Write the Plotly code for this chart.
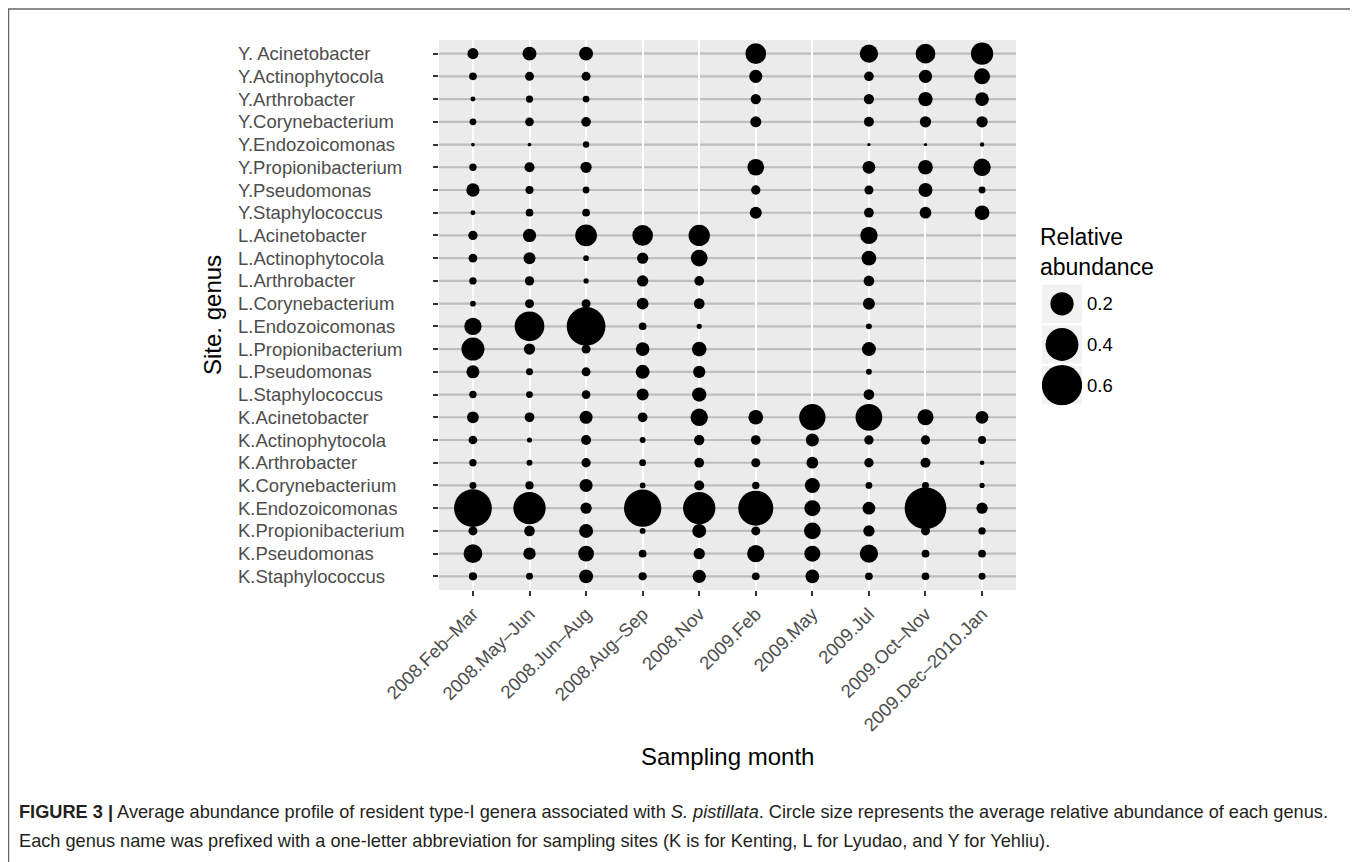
import plotly.graph_objects as go

W, H = 1358, 862

genera = [
    "Y. Acinetobacter", "Y.Actinophytocola", "Y.Arthrobacter", "Y.Corynebacterium",
    "Y.Endozoicomonas", "Y.Propionibacterium", "Y.Pseudomonas", "Y.Staphylococcus",
    "L.Acinetobacter", "L.Actinophytocola", "L.Arthrobacter", "L.Corynebacterium",
    "L.Endozoicomonas", "L.Propionibacterium", "L.Pseudomonas", "L.Staphylococcus",
    "K.Acinetobacter", "K.Actinophytocola", "K.Arthrobacter", "K.Corynebacterium",
    "K.Endozoicomonas", "K.Propionibacterium", "K.Pseudomonas", "K.Staphylococcus",
]

months = [
    "2008.Feb–Mar", "2008.May–Jun", "2008.Jun–Aug", "2008.Aug–Sep", "2008.Nov",
    "2009.Feb", "2009.May", "2009.Jul", "2009.Oct–Nov", "2009.Dec–2010.Jan",
]

N8 = [None] * 8

# relative abundance per sampling month, rows follow `genera` (Y..., L..., K...)
feb_mar_2008 = [0.045, 0.022, 0.009, 0.017, 0.005, 0.020, 0.065, 0.009,
                0.032, 0.028, 0.020, 0.012, 0.111, 0.196, 0.063, 0.020,
                0.051, 0.028, 0.020, 0.018, 0.526, 0.030, 0.129, 0.025]
may_jun_2008 = [0.072, 0.030, 0.020, 0.028, 0.005, 0.037, 0.024, 0.022,
                0.065, 0.053, 0.032, 0.030, 0.326, 0.047, 0.018, 0.017,
                0.035, 0.010, 0.013, 0.025, 0.386, 0.042, 0.056, 0.018]
jun_aug_2008 = [0.072, 0.030, 0.017, 0.035, 0.015, 0.047, 0.017, 0.022,
                0.174, 0.012, 0.010, 0.030, 0.554, 0.030, 0.030, 0.028,
                0.063, 0.037, 0.032, 0.063, 0.047, 0.072, 0.091, 0.072]
aug_sep_2008 = N8 + [0.158, 0.047, 0.047, 0.051, 0.022, 0.069, 0.072, 0.053,
                     0.035, 0.013, 0.017, 0.012, 0.515, 0.013, 0.022, 0.025]
nov_2008 = N8 + [0.168, 0.103, 0.035, 0.042, 0.010, 0.080, 0.056, 0.076,
                 0.111, 0.039, 0.035, 0.037, 0.386, 0.072, 0.047, 0.065]
feb_2009 = [0.158, 0.063, 0.039, 0.045, None, 0.103, 0.032, 0.053] + N8 + \
           [0.080, 0.035, 0.030, 0.020, 0.453, 0.030, 0.111, 0.022]
may_2009 = N8 + N8 + [0.256, 0.063, 0.051, 0.083, 0.095, 0.103, 0.095, 0.069]
jul_2009 = [0.124, 0.035, 0.039, 0.037, 0.004, 0.060, 0.030, 0.035,
            0.111, 0.080, 0.042, 0.053, 0.013, 0.072, 0.013, 0.042,
            0.264, 0.032, 0.032, 0.017, 0.060, 0.047, 0.124, 0.022]
oct_nov_2009 = [0.144, 0.065, 0.076, 0.047, 0.004, 0.080, 0.072, 0.051] + N8 + \
               [0.095, 0.032, 0.037, 0.018, 0.643, 0.030, 0.022, 0.022]
dec_jan_2009 = [0.184, 0.095, 0.069, 0.047, 0.007, 0.111, 0.018, 0.080] + N8 + \
               [0.060, 0.024, 0.008, 0.010, 0.047, 0.020, 0.022, 0.018]

columns = [feb_mar_2008, may_jun_2008, jun_aug_2008, aug_sep_2008, nov_2008,
           feb_2009, may_2009, jul_2009, oct_nov_2009, dec_jan_2009]

legend_breaks = [0.2, 0.4, 0.6]
legend_labels = ["0.2", "0.4", "0.6"]

# ---------------------------------------------------------------
xs, ys, ss = [], [], []
for m, col in zip(months, columns):
    for g, v in zip(genera, col):
        if v is not None:
            xs.append(m)
            ys.append(g)
            ss.append(v)

SIZEREF = 2.0 / 52.0 ** 2
OFF = 8  # browser page margin compensation


def px_x(p):
    return (p - OFF) / W


def px_y(p):
    return 1 - (p - OFF) / H


fig = go.Figure()
fig.add_trace(go.Scatter(
    x=xs, y=ys, mode="markers",
    marker=dict(size=ss, sizemode="area", sizeref=SIZEREF, sizemin=0,
                color="black", opacity=1, line=dict(width=0)),
    xaxis="x", yaxis="y", hoverinfo="x+y+text", text=[str(v) for v in ss],
))
fig.add_trace(go.Scatter(
    x=[0] * len(legend_breaks), y=legend_labels, mode="markers",
    marker=dict(size=legend_breaks, sizemode="area", sizeref=SIZEREF,
                color="black", opacity=1, line=dict(width=0)),
    xaxis="x2", yaxis="y2", hoverinfo="skip",
))

FAM = "Liberation Sans, Arial, sans-serif"
tick_font = dict(family=FAM, size=18.5, color="#4D4D4D")
title_font = dict(family=FAM, size=24, color="black")

shapes = []
shapes.append(dict(type="rect", xref="x domain", yref="y domain", x0=0, x1=1, y0=0, y1=1,
                   fillcolor="#EBEBEB", line=dict(width=0), layer="below"))
for g in genera:
    shapes.append(dict(type="line", xref="x domain", yref="y", x0=0, x1=1, y0=g, y1=g,
                       line=dict(color="#BEBEBE", width=2.2), layer="below"))
for i in range(len(legend_breaks)):
    shapes.append(dict(type="rect", xref="x2", yref="y2", x0=-0.5, x1=0.5,
                       y0=i - 0.47, y1=i + 0.47, fillcolor="#F2F2F2",
                       line=dict(width=0), layer="below"))
shapes.append(dict(type="path", xref="paper", yref="paper",
                   path=f"M {px_x(8.5)} -0.05 L {px_x(8.5)} {px_y(9)} L {px_x(1354)} {px_y(9)} L {px_x(1354)} -0.05",
                   line=dict(color="#666666", width=1.5)))

annotations = []
for g in genera:
    annotations.append(dict(text=g, xref="paper", yref="y", x=px_x(236), y=g,
                            xanchor="left", yanchor="middle", showarrow=False,
                            font=tick_font))
annotations.append(dict(text="Sampling month", xref="paper", yref="paper",
                        x=px_x(727.5), y=px_y(756), xanchor="center", yanchor="middle",
                        showarrow=False, font=title_font))
annotations.append(dict(text="Site. genus", xref="paper", yref="paper",
                        x=px_x(213), y=px_y(315), xanchor="center", yanchor="middle",
                        textangle=-90, showarrow=False, font=title_font))
annotations.append(dict(text="Relative<br>abundance", xref="paper", yref="paper",
                        x=px_x(1038), y=px_y(222), xanchor="left", yanchor="top",
                        align="left", showarrow=False,
                        font=dict(family=FAM, size=23, color="black")))
for i, lab in enumerate(legend_labels):
    annotations.append(dict(text=lab, xref="paper", yref="y2", x=px_x(1085), y=i,
                            xanchor="left", yanchor="middle", showarrow=False,
                            font=dict(family=FAM, size=18.5, color="black")))

cap_font = dict(family=FAM, size=18.2, color="#231F20")
annotations.append(dict(
    text="<b>FIGURE 3 |</b> Average abundance profile of resident type-I genera associated with "
         "<i>S. pistillata</i>. Circle size represents the average relative abundance of each genus.",
    xref="paper", yref="paper", x=px_x(17), y=px_y(812), xanchor="left", yanchor="middle",
    showarrow=False, font=cap_font))
annotations.append(dict(
    text="Each genus name was prefixed with a one-letter abbreviation for sampling sites "
         "(K is for Kenting, L for Lyudao, and Y for Yehliu).",
    xref="paper", yref="paper", x=px_x(17), y=px_y(841), xanchor="left", yanchor="middle",
    showarrow=False, font=cap_font))

fig.update_layout(
    width=W, height=H,
    margin=dict(l=0, r=0, t=0, b=0, pad=0, autoexpand=False),
    paper_bgcolor="white", plot_bgcolor="white",
    showlegend=False,
    xaxis=dict(domain=[px_x(439), px_x(1016)], type="category",
               categoryorder="array", categoryarray=months,
               range=[-0.6, len(months) - 1 + 0.6],
               showgrid=True, gridcolor="white", gridwidth=2.2,
               zeroline=False, showline=False, automargin=False,
               ticks="outside", ticklen=5, tickwidth=2, tickcolor="#333333",
               tickangle=-45, tickfont=tick_font, anchor="y", fixedrange=True),
    yaxis=dict(domain=[px_y(590), px_y(40)], type="category",
               categoryorder="array", categoryarray=genera,
               range=[len(genera) - 1 + 0.6, -0.6],
               showgrid=False, zeroline=False, showline=False, automargin=False,
               ticks="outside", ticklen=5, tickwidth=2, tickcolor="#333333",
               showticklabels=False, anchor="x", fixedrange=True),
    xaxis2=dict(domain=[px_x(1042), px_x(1082)], range=[-0.5, 0.5], visible=False,
                anchor="y2", fixedrange=True, automargin=False),
    yaxis2=dict(domain=[px_y(405.5), px_y(283.5)], type="category",
                categoryorder="array", categoryarray=legend_labels,
                range=[len(legend_labels) - 0.5, -0.5], visible=False,
                anchor="x2", fixedrange=True, automargin=False),
    shapes=shapes,
    annotations=annotations,
)

fig.write_html("out.html")
